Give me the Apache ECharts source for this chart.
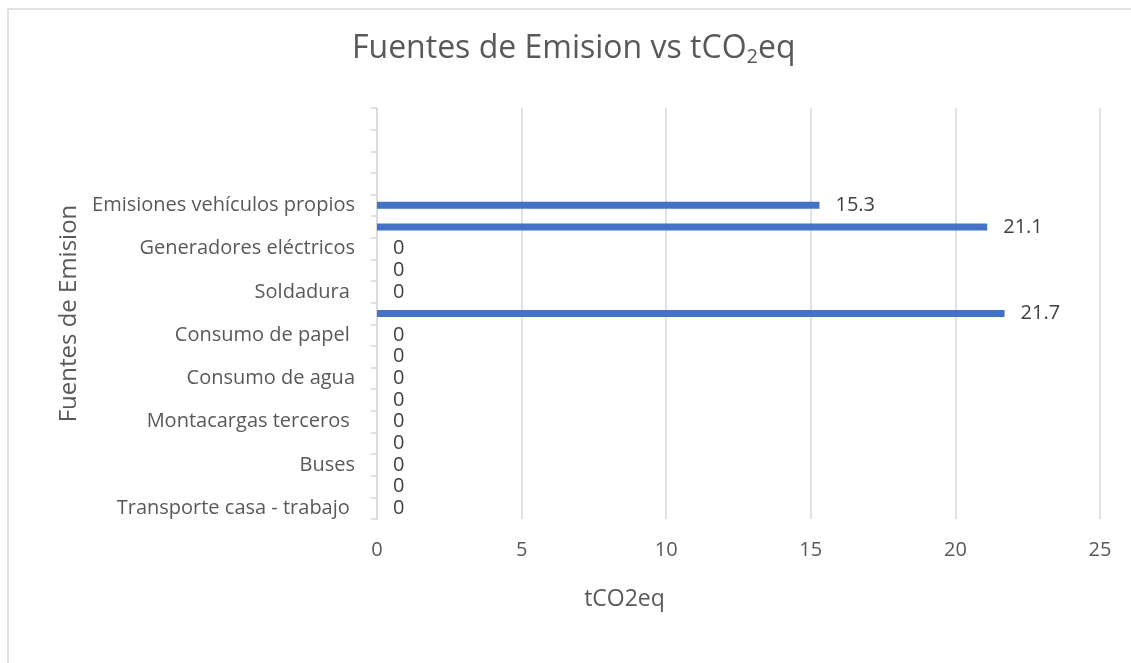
<!DOCTYPE html>
<html>
<head>
<meta charset="utf-8">
<script src="https://cdn.jsdelivr.net/npm/echarts@6/dist/echarts.min.js"></script>
<style>
  html, body { margin: 0; padding: 0; background: #ffffff; }
  #chart { width: 1131px; height: 663px; }
</style>
</head>
<body>
<div id="chart"></div>
<script>
// Emission sources, listed bottom to top; unlabelled rows sit between labelled ones
const categories = [
  'Transporte casa - trabajo ', '',
  'Buses', '',
  'Montacargas terceros ', '',
  'Consumo de agua', '',
  'Consumo de papel ', '',
  'Soldadura ', '',
  'Generadores eléctricos', '',
  'Emisiones vehículos propios', '',
  '', '', ''
];

// tCO2eq per source (null = no value)
const emissions = [
  0, 0,
  0, 0,
  0, 0,
  0, 0,
  0, 21.7,
  0, 0,
  0, 21.1,
  15.3, null,
  null, null, null
];

const xTicks = { min: 0, max: 25, interval: 5 };

const FONT = '"Open Sans", sans-serif';
const TEXT = '#595959';
const GRID = '#d9d9d9';

const chart = echarts.init(document.getElementById('chart'), null, { renderer: 'canvas' });

chart.setOption({
  backgroundColor: '#ffffff',
  animation: false,
  textStyle: { fontFamily: FONT },
  title: {
    text: '{a|Fuentes de Emision vs tCO}{s|2}{a|eq}',
    left: 347,
    top: 25,
    textStyle: {
      rich: {
        a: { fontFamily: FONT, fontSize: 32, fontWeight: 'normal', color: TEXT },
        s: { fontFamily: FONT, fontSize: 20, fontWeight: 'normal', color: TEXT, padding: [17, 0, 0, 0] }
      }
    }
  },
  graphic: [{
    type: 'rect',
    shape: { x: 8, y: 9, width: 1140, height: 680 },
    style: { fill: 'none', stroke: GRID, lineWidth: 1.5 },
    silent: true
  }],
  grid: { left: 377, right: 31, top: 108, bottom: 144, containLabel: false },
  xAxis: {
    type: 'value',
    min: xTicks.min,
    max: xTicks.max,
    interval: xTicks.interval,
    name: 'tCO2eq',
    nameLocation: 'middle',
    nameGap: 69,
    nameTextStyle: { color: TEXT, fontSize: 23, fontFamily: FONT, padding: [0, 228, 0, 0] },
    axisLine: { show: false },
    axisTick: { show: false },
    axisLabel: { color: TEXT, fontSize: 20, margin: 21, fontFamily: FONT },
    splitLine: { show: true, lineStyle: { color: GRID, width: 1.5 } }
  },
  yAxis: {
    type: 'category',
    data: categories,
    name: 'Fuentes de Emision',
    nameLocation: 'middle',
    nameGap: 292,
    nameRotate: 90,
    nameTextStyle: { color: TEXT, fontSize: 24, fontFamily: FONT },
    axisLine: { show: true, lineStyle: { color: GRID, width: 1.5 } },
    axisTick: { show: true, interval: 0, length: 6, alignWithLabel: false, lineStyle: { color: GRID, width: 1.5 } },
    axisLabel: { color: TEXT, fontSize: 20, margin: 22, interval: 0, fontFamily: FONT },
    splitLine: { show: false }
  },
  series: [{
    type: 'bar',
    data: emissions,
    barWidth: 7,
    itemStyle: { color: '#4472C4' },
    label: {
      show: true,
      position: 'right',
      distance: 16,
      color: '#404040',
      fontSize: 20,
      fontFamily: FONT
    }
  }]
});
</script>
</body>
</html>
